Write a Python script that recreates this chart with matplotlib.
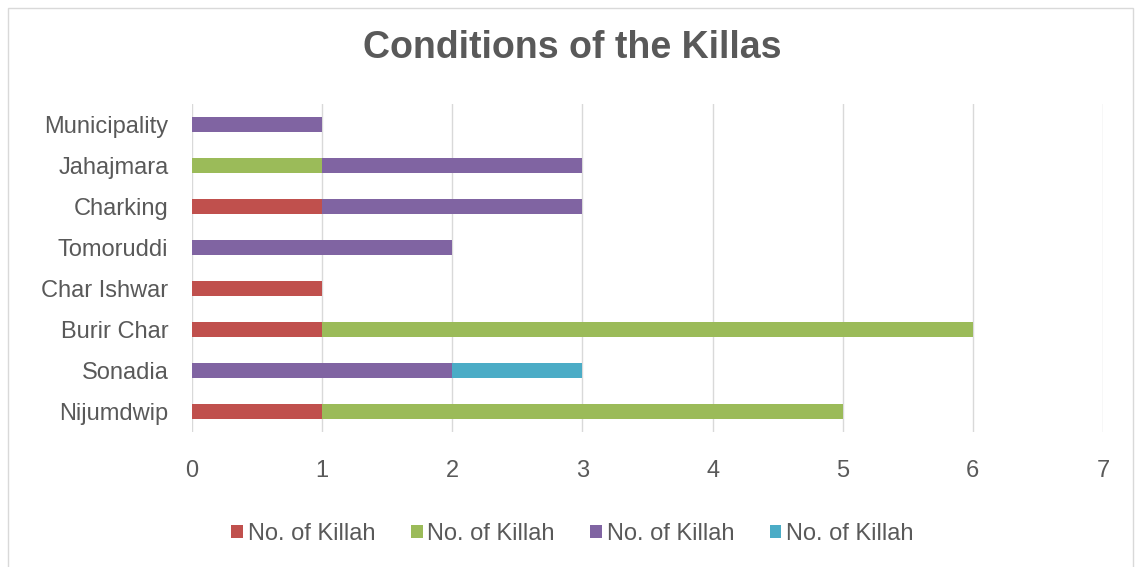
import matplotlib.pyplot as plt
import numpy as np
from matplotlib.patches import Rectangle

categories = ['Nijumdwip', 'Sonadia', 'Burir Char', 'Char Ishwar',
              'Tomoruddi', 'Charking', 'Jahajmara', 'Municipality']
series_red = [1, 0, 1, 1, 0, 1, 0, 0]
series_green = [4, 0, 5, 0, 0, 0, 1, 0]
series_purple = [0, 2, 0, 0, 2, 2, 2, 1]
series_teal = [0, 1, 0, 0, 0, 0, 0, 0]
series_label = 'No. of Killah'
x_ticks = [0, 1, 2, 3, 4, 5, 6, 7]

plt.rcParams['font.family'] = ['Liberation Sans', 'DejaVu Sans']
text_color = '#595959'

fig = plt.figure(figsize=(11.45, 5.67), dpi=100)
ax = fig.add_axes([192 / 1145, 1 - 432 / 567, 911 / 1145, 328 / 567])

y = np.arange(len(categories))
left = np.zeros(len(categories))
for vals, col in [(series_red, '#C0504D'), (series_green, '#9BBB59'),
                  (series_purple, '#8064A2'), (series_teal, '#4BACC6')]:
    ax.barh(y, vals, left=left, height=0.39, color=col, label=series_label)
    left += np.array(vals)

ax.set_xlim(0, 7)
ax.set_ylim(-0.5, len(categories) - 0.5)
ax.set_xticks(x_ticks)
ax.set_yticks(y)
ax.set_yticklabels(categories)
ax.tick_params(axis='both', length=0, labelsize=17, colors=text_color)
ax.tick_params(axis='x', pad=20)
ax.tick_params(axis='y', pad=17)
ax.grid(axis='x', color='#D9D9D9', lw=1)
ax.set_axisbelow(True)
for s in ax.spines.values():
    s.set_visible(False)

fig.suptitle('Conditions of the Killas', y=1 - 48 / 567, va='center',
             fontsize=27, fontweight='bold', color=text_color)

fig.legend(loc='center', bbox_to_anchor=(0.5, 1 - 534 / 567), ncol=4,
           frameon=False, fontsize=17, handlelength=0.5, handleheight=0.5,
           handletextpad=0.2, columnspacing=1.5, labelcolor=text_color)

fig.patches.append(Rectangle((8 / 1145, -0.05), 1125 / 1145, 1.05 - 8 / 567,
                             transform=fig.transFigure, fill=False,
                             edgecolor='#D9D9D9', lw=1))

fig.savefig('out.png', dpi=100)
